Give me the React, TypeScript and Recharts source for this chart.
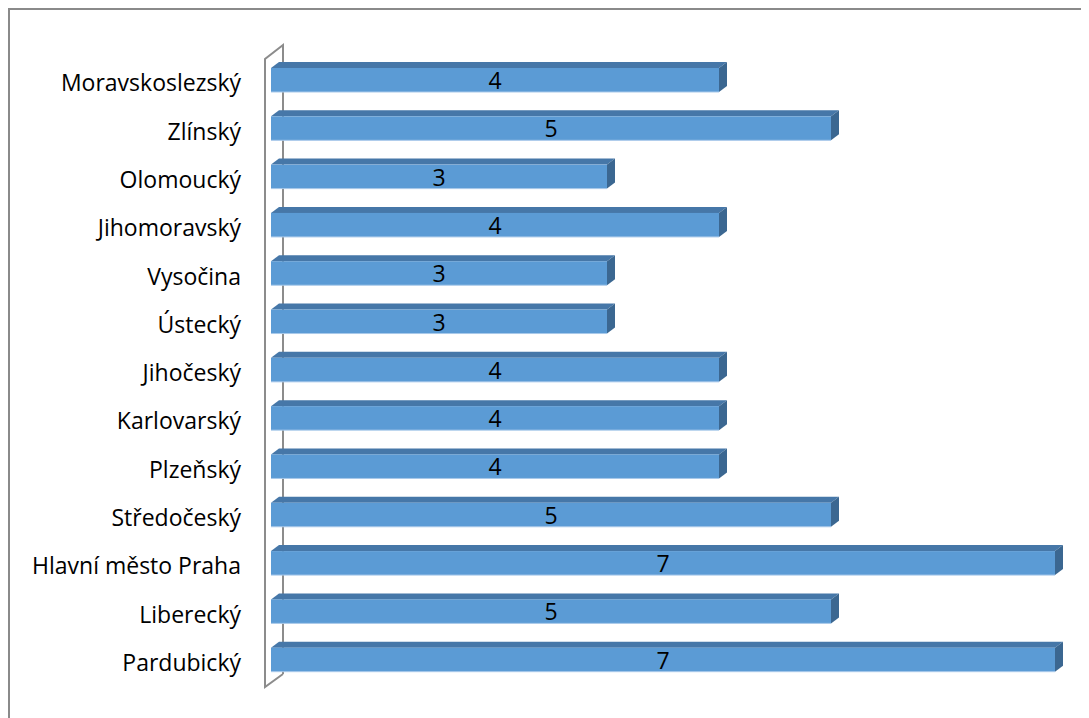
import React from "react";
import { BarChart, Bar, XAxis, YAxis, ReferenceArea, LabelList } from "recharts";

const regions = [
  "Moravskoslezský",
  "Zlínský",
  "Olomoucký",
  "Jihomoravský",
  "Vysočina",
  "Ústecký",
  "Jihočeský",
  "Karlovarský",
  "Plzeňský",
  "Středočeský",
  "Hlavní město Praha",
  "Liberecký",
  "Pardubický",
];
const counts = [4, 5, 3, 4, 3, 3, 4, 4, 4, 5, 7, 5, 7];

const FRONT = "#5b9bd5";
const TOP = "#4677a8";
const SIDE = "#3b6791";
const WALL = "#8c8c8c";
const FONT = "'Open Sans', sans-serif";
const DX = 8;
const DY = 6;
const LIFT = 3;

const data = regions.map((name, i) => ({ name, value: counts[i] }));

function Bar3D(props: any) {
  const { x, y, width, height } = props;
  if (!width || width <= 0) return null;
  const fy = y - LIFT;
  return (
    <g>
      <polygon
        points={`${x},${fy} ${x + DX},${fy - DY} ${x + width + DX},${fy - DY} ${x + width},${fy}`}
        fill={TOP}
      />
      <polygon
        points={`${x + width},${fy} ${x + width + DX},${fy - DY} ${x + width + DX},${fy + height - DY} ${x + width},${fy + height}`}
        fill={SIDE}
      />
      <rect x={x} y={fy} width={width} height={height} fill={FRONT} />
      <line x1={x} y1={fy + height} x2={x + width} y2={fy + height} stroke="#a9c9ea" strokeWidth={1} />
    </g>
  );
}

function Wall(props: any) {
  const { x, y, height } = props;
  const top = y;
  const bottom = y + height;
  const fx = x - 6;
  const bx = x + 12;
  return (
    <g fill="none" stroke={WALL} strokeWidth={2}>
      <polyline points={`${bx},${bottom - 13} ${bx},${top - 14} ${fx},${top} ${fx},${bottom} ${bx},${bottom - 13}`} />
    </g>
  );
}

function ValueLabel(props: any) {
  const { x, y, width, height, value } = props;
  return (
    <text
      x={x + width / 2}
      y={y + height / 2 - LIFT}
      textAnchor="middle"
      dominantBaseline="central"
      fontFamily={FONT}
      fontSize={23}
      fill="#000"
    >
      {value}
    </text>
  );
}

export default function App() {
  return (
    <div
      style={{
        width: 1100,
        height: 720,
        borderTop: "2px solid #8a8a8a",
        borderLeft: "2px solid #8a8a8a",
        background: "#fff",
      }}
    >
      <BarChart
        width={1079}
        height={708}
        data={data}
        layout="vertical"
        margin={{ top: 49, right: 34, bottom: 31, left: 0 }}
      >
        <XAxis type="number" domain={[0, 7]} hide />
        <YAxis
          type="category"
          dataKey="name"
          width={261}
          axisLine={false}
          tickLine={false}
          tickSize={6}
          tickMargin={24}
          interval={0}
          tick={{ fontFamily: FONT, fontSize: 23, fill: "#000" }}
        />
        <ReferenceArea x1={0} x2={7} shape={<Wall />} ifOverflow="visible" />
        <Bar dataKey="value" barSize={24} shape={<Bar3D />} isAnimationActive={false}>
          <LabelList dataKey="value" content={<ValueLabel />} />
        </Bar>
      </BarChart>
    </div>
  );
}
